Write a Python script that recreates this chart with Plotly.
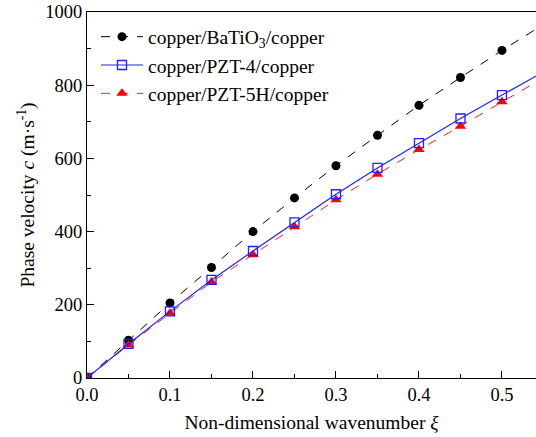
import plotly.graph_objects as go

xi = [0.0, 0.05, 0.10, 0.15, 0.20, 0.25, 0.30, 0.35, 0.40, 0.45, 0.50, 0.55]
c_batio3 = [0, 103, 205, 302, 400, 492, 580, 663, 745, 821, 895, 966]
c_pzt4 = [0, 93, 182, 268, 347, 425, 502, 574, 642, 709, 773, 836]
c_pzt5h = [0, 90, 177, 262, 337, 413, 487, 557, 624, 688, 755, 820]
names = ["copper/BaTiO<sub>3</sub>/copper", "copper/PZT-4/copper", "copper/PZT-5H/copper"]

FONT = "Liberation Serif"

fig = go.Figure()
fig.add_trace(go.Scatter(x=xi, y=c_batio3, mode="lines+markers", name=names[0],
                         line=dict(color="black", width=1, dash="dash"),
                         marker=dict(symbol="circle", size=9, color="black")))
fig.add_trace(go.Scatter(x=xi, y=c_pzt5h, mode="lines+markers", name=names[2],
                         line=dict(color="#ff1a1a", width=1, dash="dash"),
                         marker=dict(symbol="triangle-up", size=10, color="#ff0000")))
fig.add_trace(go.Scatter(x=xi, y=c_pzt4, mode="lines+markers", name=names[1],
                         line=dict(color="#2020ff", width=1.2),
                         marker=dict(symbol="square-open", size=9, color="#2020ff",
                                     line=dict(width=1.3))))

fig.update_layout(
    width=536, height=437,
    margin=dict(l=87, r=0, t=12, b=59),
    paper_bgcolor="white", plot_bgcolor="white",
    font=dict(family=FONT, size=18, color="black"),
    showlegend=True,
    legend=dict(x=0.02, y=0.985, xanchor="left", yanchor="top",
                bgcolor="rgba(0,0,0,0)", traceorder="normal",
                font=dict(family=FONT, size=19.5), itemwidth=42,
                tracegroupgap=0),
    xaxis=dict(range=[0, 0.541], tickvals=[0, 0.1, 0.2, 0.3, 0.4, 0.5],
               ticktext=["0.0", "0.1", "0.2", "0.3", "0.4", "0.5"],
               ticks="inside", ticklen=7, tickwidth=1, tickcolor="black",
               minor=dict(dtick=0.05, ticks="inside", ticklen=4, tickcolor="black", showgrid=False),
               showline=True, linecolor="black", linewidth=1.3, mirror=True,
               showgrid=False, zeroline=False,
               tickfont=dict(family=FONT, size=18.5),
               title=dict(text="Non-dimensional wavenumber <i>ξ</i>", font=dict(family=FONT, size=19.5), standoff=11)),
    yaxis=dict(range=[0, 1000], tickvals=[0, 200, 400, 600, 800, 1000],
               ticks="inside", ticklen=7, tickwidth=1, tickcolor="black",
               minor=dict(dtick=100, ticks="inside", ticklen=4, tickcolor="black", showgrid=False),
               showline=True, linecolor="black", linewidth=1.3, mirror=False,
               showgrid=False, zeroline=False,
               tickfont=dict(family=FONT, size=18.5),
               title=dict(text="Phase velocity <i>c</i> (m·s<sup>-1</sup>)", font=dict(family=FONT, size=19.5), standoff=5)),
)

fig.data[0].legendrank = 1
fig.data[2].legendrank = 2
fig.data[1].legendrank = 3

fig.write_html("out.html")
